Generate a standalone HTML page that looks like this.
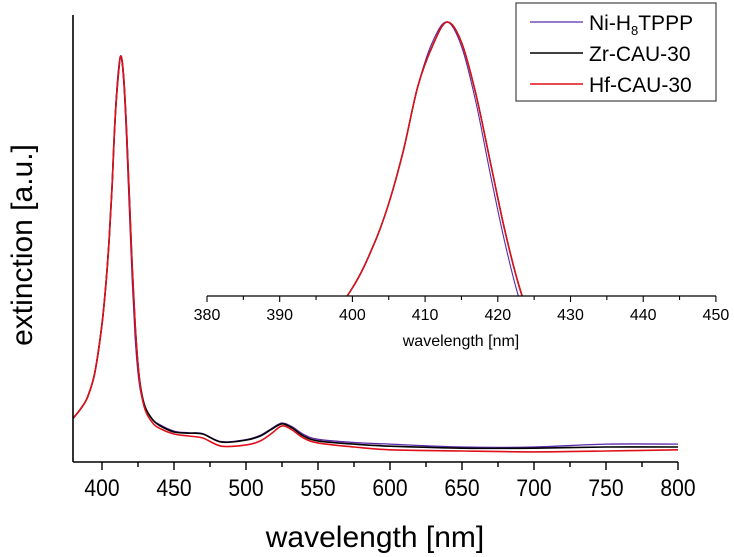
<!DOCTYPE html>
<html><head><meta charset="utf-8"><style>
html,body{margin:0;padding:0;background:#fff;}
svg{display:block;font-family:"Liberation Sans",Arial,sans-serif;}
</style></head><body>
<svg id="chart" width="734" height="557" viewBox="0 0 734 557">
<g id="main"></g>
<g id="inset"></g>
<g id="legend">
  <rect x="516" y="3" width="200" height="98" fill="#fff" stroke="#444" stroke-width="1.2"/>
  <g><line x1="530" y1="22" x2="583" y2="22" stroke="#5b2aa8" stroke-width="1.3"/><text x="589" y="30" font-size="21">Ni-H<tspan font-size="13" dy="5">8</tspan><tspan dy="-5">TPPP</tspan></text></g>
  <g><line x1="530" y1="53" x2="583" y2="53" stroke="#000" stroke-width="1.5"/><text x="589" y="61" font-size="21">Zr-CAU-30</text></g>
  <g><line x1="530" y1="84" x2="583" y2="84" stroke="#e0101a" stroke-width="1.5"/><text x="589" y="92" font-size="21">Hf-CAU-30</text></g>
</g>
<text x="375" y="547" font-size="30" text-anchor="middle">wavelength [nm]</text>
<text transform="translate(32,245) rotate(-90)" font-size="30" text-anchor="middle">extinction [a.u.]</text>
<text x="461" y="346" font-size="16" text-anchor="middle">wavelength [nm]</text>
</svg>
<script>
const wl = [380,385,390,395,400,403,405,407,409,411,413,415,417,419,421,423,425,427,430,435,440,450,460,470,483,500,510,518,525,532,540,550,575,600,650,700,750,800];
const niVals = [0.108,0.13,0.16,0.22,0.34,0.45,0.55,0.68,0.84,0.95,1.0,0.94,0.80,0.62,0.45,0.31,0.22,0.17,0.135,0.105,0.092,0.076,0.072,0.07,0.05,0.055,0.066,0.083,0.096,0.087,0.068,0.056,0.048,0.044,0.037,0.037,0.044,0.044];
const zrVals = [0.108,0.13,0.16,0.22,0.34,0.45,0.55,0.68,0.84,0.94,1.0,0.95,0.82,0.65,0.48,0.34,0.24,0.18,0.135,0.105,0.09,0.074,0.071,0.069,0.049,0.054,0.064,0.081,0.094,0.084,0.064,0.052,0.044,0.039,0.034,0.034,0.037,0.037];
const hfVals = [0.108,0.13,0.16,0.22,0.34,0.45,0.55,0.68,0.84,0.94,1.0,0.95,0.82,0.65,0.48,0.34,0.24,0.175,0.128,0.097,0.083,0.069,0.064,0.059,0.039,0.042,0.052,0.071,0.089,0.079,0.059,0.047,0.037,0.030,0.027,0.025,0.027,0.030];
const mainTicks = [400,450,500,550,600,650,700,750,800];
const insetTicks = [380,390,400,410,420,430,440,450];
const NS="http://www.w3.org/2000/svg";
const colors={ni:"#5b2aa8",zr:"#000",hf:"#e0101a"};
function mk(tag,attrs,parent){const e=document.createElementNS(NS,tag);for(const k in attrs)e.setAttribute(k,attrs[k]);parent.appendChild(e);return e;}
const mx=v=>102+(v-400)*1.44;
const my=v=>462-v*406;
const main=document.getElementById('main');
function pathD(xf,yf,vals){let d="";const pts=wl.map((w,i)=>[xf(w),yf(vals[i])]);
 for(let i=0;i<pts.length;i++){if(i==0){d+="M"+pts[0][0].toFixed(1)+" "+pts[0][1].toFixed(1);continue;}
 const p0=pts[Math.max(0,i-2)],p1=pts[i-1],p2=pts[i],p3=pts[Math.min(pts.length-1,i+1)];
 const c1=[p1[0]+(p2[0]-p0[0])/6,p1[1]+(p2[1]-p0[1])/6],c2=[p2[0]-(p3[0]-p1[0])/6,p2[1]-(p3[1]-p1[1])/6];
 d+=" C"+c1[0].toFixed(1)+" "+c1[1].toFixed(1)+" "+c2[0].toFixed(1)+" "+c2[1].toFixed(1)+" "+p2[0].toFixed(1)+" "+p2[1].toFixed(1);}
 return d;}
const series=[["ni",niVals],["zr",zrVals],["hf",hfVals]];
series.forEach(([k,v])=>{
 const p=mk('path',{d:pathD(mx,my,v),fill:"none",stroke:colors[k],"stroke-width":k=="ni"?1.3:1.6,"stroke-linejoin":"round"},main);
 
 
});
mk('line',{x1:73,y1:15,x2:73,y2:462,stroke:"#000","stroke-width":1.6},main);
mk('line',{x1:73,y1:462,x2:678,y2:462,stroke:"#000","stroke-width":1.6},main);
for(let t=400;t<=800;t+=25){mk('line',{x1:mx(t),y1:462,x2:mx(t),y2:t%50==0?470:467,stroke:"#000","stroke-width":1.4},main);}
mainTicks.forEach(t=>{const e=mk('text',{x:mx(t),y:496,"font-size":24,"text-anchor":"middle",transform:`translate(${mx(t)},0) scale(0.88,1) translate(${-mx(t)},0)`},main);e.textContent=t;
 
 });
const ix=v=>207+(v-380)*7.27;
const vmin=0.32;
const iy=v=>296-(v-vmin)/(1-vmin)*274;
const inset=document.getElementById('inset');
mk('clipPath',{id:"ic"},inset);
mk('rect',{x:207,y:0,width:510,height:296},document.getElementById('ic'));
series.forEach(([k,v])=>{
 const p=mk('path',{d:pathD(ix,iy,v),fill:"none",stroke:colors[k],"stroke-width":k=="ni"?1.1:1.5,"clip-path":"url(#ic)"},inset);
 
 
});
mk('line',{x1:207,y1:296,x2:716,y2:296,stroke:"#000","stroke-width":1.3},inset);
for(let t=380;t<=450;t+=5){mk('line',{x1:ix(t),y1:296,x2:ix(t),y2:t%10==0?302:300,stroke:"#000","stroke-width":1.1},inset);}
insetTicks.forEach(t=>{const e=mk('text',{x:ix(t),y:320,"font-size":16,"text-anchor":"middle"},inset);e.textContent=t;
 
 });
</script>
</body></html>
